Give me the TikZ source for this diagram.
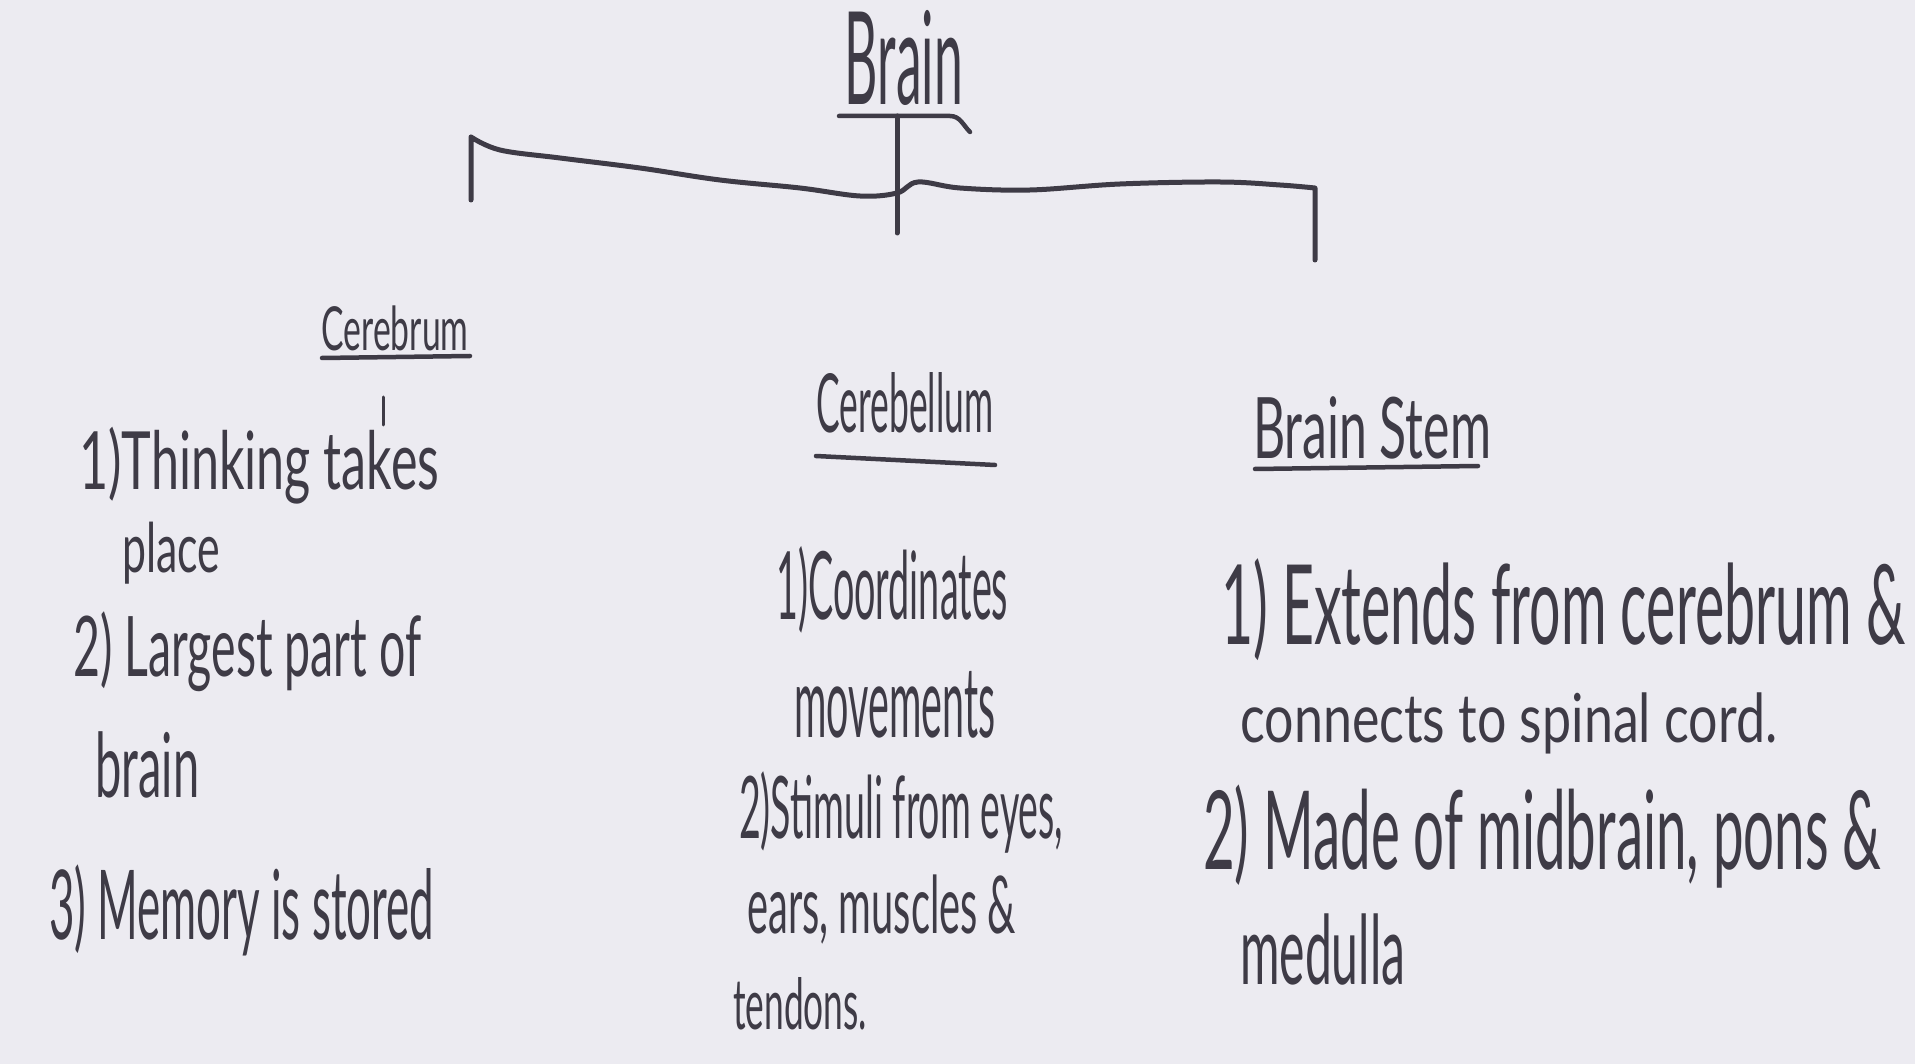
\documentclass[tikz,border=0pt]{standalone}
\usepackage{fontspec}
\setmainfont{Lato}
\usepackage{graphicx}
\definecolor{paper}{HTML}{ECEBF1}
\definecolor{ink}{HTML}{3E3B46}
\newcommand\hw[3][1.6]{\resizebox{#2pt}{!}{\scalebox{1}[#1]{#3}}}
\begin{document}
\begin{tikzpicture}[x=1pt,y=-1pt,
  pen/.style={draw=ink, line width=5pt, line cap=round, line join=round},
  ulpen/.style={draw=ink, line width=4.5pt, line cap=round, line join=round},
  thinpen/.style={draw=ink, line width=3pt, line cap=round},
  hand/.style={text=ink, inner sep=0pt, anchor=west},
  head/.style={text=ink, inner sep=0pt}]
\fill[paper] (0,0) rectangle (1915,1064);
\useasboundingbox (0,0) rectangle (1915,1064);

% titles
\node[head] (brain) at (904,58) {\hw[2.5]{118}{Brain}};
\node[head] (cerebrum) at (395,328) {\hw[1.8]{147}{Cerebrum}};
\node[head] (cerebellum) at (905,403) {\hw[2.3]{177}{Cerebellum}};
\node[head] (stem) at (1372,428) {\hw[1.7]{238}{Brain Stem}};

% tree connectors
\coordinate (ulL) at (839,116);
\coordinate (ulR) at (970,132);
\coordinate (top) at (897,116);
\coordinate (bot) at (897,233);
\coordinate (lt) at (471,137);
\coordinate (lb) at (471,200);
\coordinate (rt) at (1315,188);
\coordinate (rb) at (1315,260);

\draw[ulpen] (ulL) -- (950,116) to[out=0,in=135] (ulR);
\draw[pen] (top) -- (bot);
\draw[pen] (lb) -- (lt) plot[smooth, tension=0.6] coordinates {(lt) (500,150) (560,158) (640,168) (720,180) (800,188) (860,196) (897,193) (918,182) (960,188) (1030,190) (1120,184) (1220,182) (1280,185) (rt)} -- (rb);

% underlines
\draw[ulpen] (322,358) -- (470,356);
\draw[ulpen] (816,456) -- (995,465);
\draw[ulpen] (1255,469) -- (1478,466);
\draw[thinpen] (383,397) -- (383,425);

% Cerebrum items
\node[hand] (t1) at (79,466) {\hw[1.6]{360}{1)Thinking takes}};
\node[hand] (t2) at (122,553) {\hw[1.6]{98}{place}};
\node[hand] (t3) at (73,652) {\hw[1.8]{348}{2) Largest part of}};
\node[hand] (t4) at (95,765) {\hw[1.9]{104}{brain}};
\node[hand] (t5) at (49,910) {\hw[2.2]{385}{3) Memory is stored}};

% Cerebellum items
\node[hand] (c1) at (776,590) {\hw[2.5]{232}{1)Coordinates}};
\node[hand] (c2) at (794,705) {\hw[2.5]{201}{movements}};
\node[hand] (c3) at (739,812) {\hw[2.3]{324}{2)Stimuli from eyes,}};
\node[hand] (c4) at (747,910) {\hw[2.0]{269}{ears, muscles \&}};
\node[hand] (c5) at (733,1004) {\hw[2.0]{134}{tendons.}};

% Brain Stem items
\node[hand] (s1) at (1221,610) {\hw[2.0]{684}{1) Extends from cerebrum \&}};
\node[hand] (s2) at (1240,723) {\hw[1.3]{537}{connects to spinal cord.}};
\node[hand] (s3) at (1203,837) {\hw[2.0]{678}{2) Made of midbrain, pons \&}};
\node[hand] (s4) at (1240,950) {\hw[2.0]{165}{medulla}};
\end{tikzpicture}
\end{document}
